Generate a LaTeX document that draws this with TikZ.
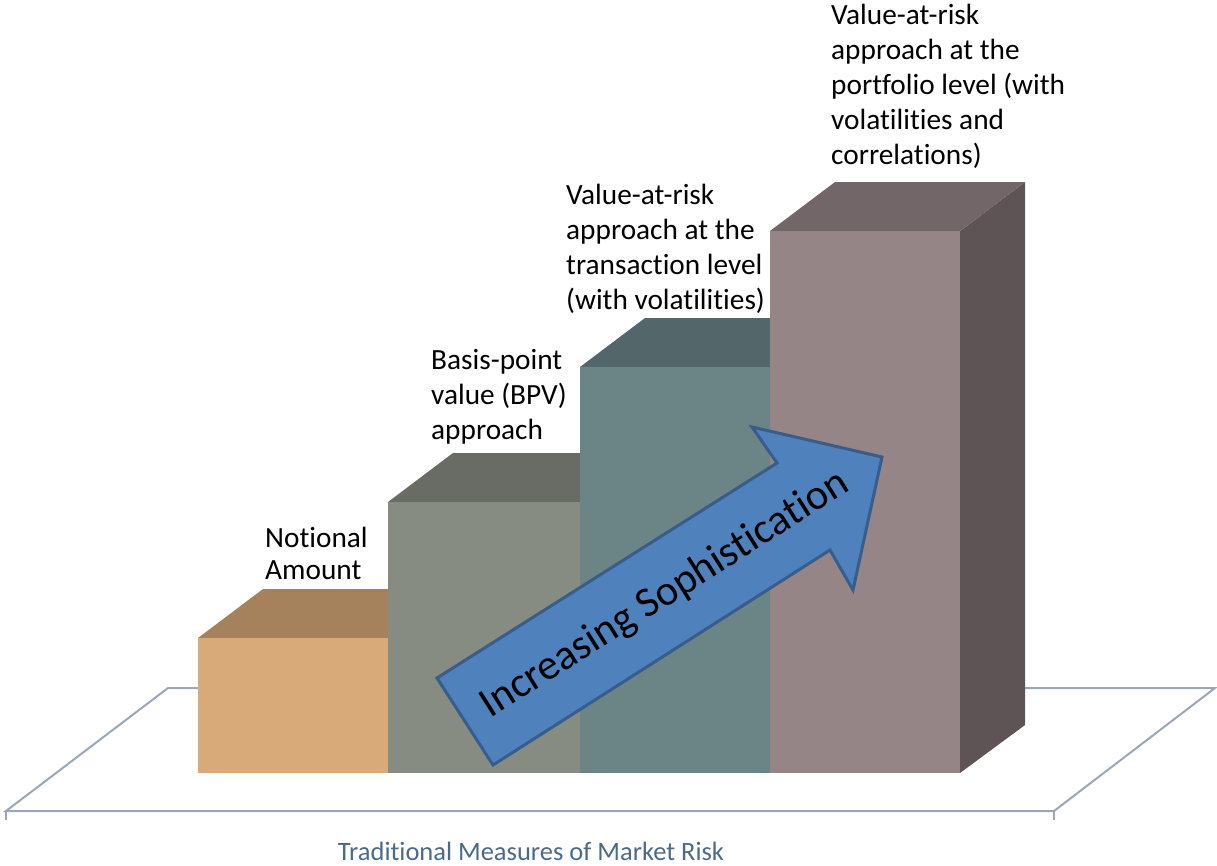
\documentclass[tikz,border=0pt]{standalone}
\usepackage{fontspec}
\setmainfont{Carlito}[Ligatures={NoCommon,NoContextual}]
\newcommand\tI{t\kern0pt i}
\definecolor{floorc}{HTML}{9AA8B6}
\definecolor{b1f}{HTML}{D8AA7A}
\definecolor{b1t}{HTML}{A5825C}
\definecolor{b2f}{HTML}{878C82}
\definecolor{b2t}{HTML}{686C64}
\definecolor{b3f}{HTML}{6B8587}
\definecolor{b3t}{HTML}{536669}
\definecolor{b4f}{HTML}{968587}
\definecolor{b4t}{HTML}{736668}
\definecolor{b4s}{HTML}{5F5455}
\definecolor{arrowf}{HTML}{4F81BD}
\definecolor{arrowd}{HTML}{385D8A}
\definecolor{titlec}{HTML}{4A6A8A}
\tikzset{
  floorline/.style={draw=floorc, line width=2pt, line join=miter},
  lbl/.style={anchor=north west, inner sep=0pt, align=left, font=\fontsize{29.3}{35}\selectfont},
}
\newcommand\drawbar[5]{%
  \fill[#5] (#1,#3) -- ++(65,-49) -- (#2+65,#3-49) -- (#2,#3) -- cycle;
  \fill[#4] (#1,#3) rectangle (#2,773);
}
\begin{document}
\begin{tikzpicture}[x=1pt,y=-1pt]
\useasboundingbox (0,0) rectangle (1217,865);
% floor
\draw[floorline] (6,811) -- (168,688) -- (1215,688) -- (1054,811) -- cycle;
\draw[floorline] (6,811) -- (6,820);
\draw[floorline] (1054,811) -- (1054,820);
% bars
\drawbar{198}{388}{638}{b1f}{b1t}
\drawbar{388}{580}{502}{b2f}{b2t}
\drawbar{580}{770}{367}{b3f}{b3t}
\fill[b4s] (960,231) -- (1025,182) -- (1025,725) -- (960,773) -- cycle;
\drawbar{770}{960}{231}{b4f}{b4t}
% arrow
\draw[fill=arrowf, draw=arrowd, line width=3pt, line join=miter]
  (437,678) -- (777,463) -- (752,427) -- (882,457) -- (853,590) -- (830,550) -- (493,765) -- cycle;
\node[anchor=base, inner sep=0pt, rotate=32.3, font=\fontsize{42.5}{46}\selectfont] (inc) at (671,604) {Increasing Sophis\tI ca\tI on};
% labels
\node[lbl, font=\fontsize{29.3}{32}\selectfont] (notional) at (265,527) {No\tI onal\\Amount};
\node[lbl] (bpv) at (431,349) {Basis-point\\value (BPV)\\approach};
\node[lbl] (vartr) at (566,183.5) {Value-at-risk\\approach at the\\transac\tI on level\\(with vola\tI li\tI es)};
\node[lbl] (varpf) at (831,4) {Value-at-risk\\approach at the\\portfolio level (with\\vola\tI li\tI es and\\correla\tI ons)};
% title
\node[anchor=base, inner sep=0pt, text=titlec, font=\fontsize{26.5}{30}\selectfont] (title) at (531,860) {Tradi\tI onal Measures of Market Risk};
\end{tikzpicture}
\end{document}
